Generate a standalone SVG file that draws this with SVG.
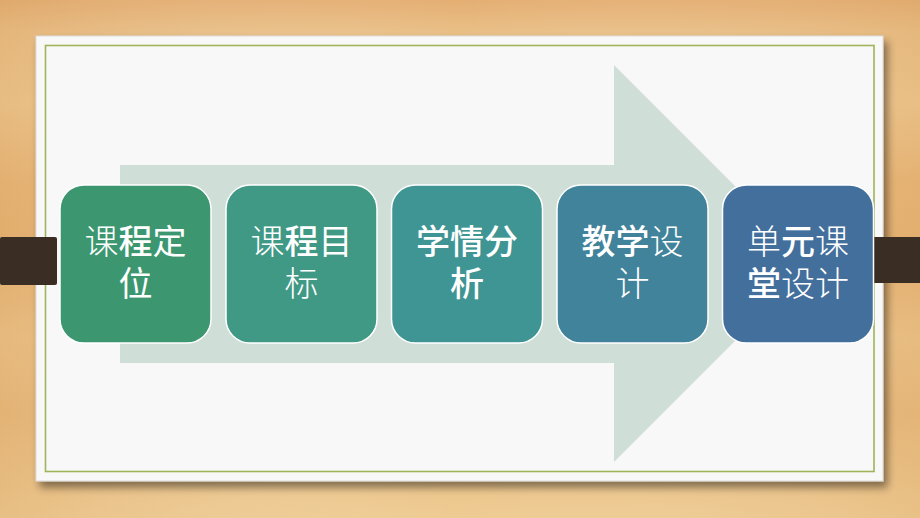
<svg xmlns="http://www.w3.org/2000/svg" width="920" height="518" viewBox="0 0 920 518">
  <defs>
    <linearGradient id="wood" x1="0" y1="0" x2="0" y2="1">
      <stop offset="0" stop-color="#e4ae72"/>
      <stop offset="0.06" stop-color="#e9bf86"/>
      <stop offset="0.2" stop-color="#eec890"/>
      <stop offset="0.35" stop-color="#e8b778"/>
      <stop offset="0.5" stop-color="#e6b373"/>
      <stop offset="0.65" stop-color="#ecc48a"/>
      <stop offset="0.8" stop-color="#e8bb7e"/>
      <stop offset="1" stop-color="#eecb92"/>
    </linearGradient>
    <linearGradient id="woodH" x1="0" y1="0" x2="1" y2="0">
      <stop offset="0" stop-color="#d49a5a" stop-opacity="0.25"/>
      <stop offset="0.5" stop-color="#ffffff" stop-opacity="0"/>
      <stop offset="1" stop-color="#d49a5a" stop-opacity="0.2"/>
    </linearGradient>
    <filter id="shadow" x="-5%" y="-5%" width="112%" height="115%">
      <feGaussianBlur in="SourceAlpha" stdDeviation="4"/>
      <feOffset dx="4" dy="6" result="b"/>
      <feComponentTransfer><feFuncA type="linear" slope="0.45"/></feComponentTransfer>
      <feMerge><feMergeNode/><feMergeNode in="SourceGraphic"/></feMerge>
    </filter>
    <style>
      .box { stroke: #ffffff; stroke-width: 1.5; }
      .lbl { font-family: "Noto Sans CJK SC", "Noto Sans", sans-serif; font-size: 34px; fill: #ffffff; font-weight: 300; }
      .c { text-anchor: middle; }
      .b { font-weight: 500; }
      .m { font-weight: 400; }
      .bar { fill: #3a2e24; }
    </style>
  </defs>

  <!-- background -->
  <rect x="0" y="0" width="920" height="518" fill="url(#wood)"/>
  <rect x="0" y="0" width="920" height="518" fill="url(#woodH)"/>

  <!-- paper -->
  <rect x="36" y="36" width="847" height="445" fill="#f8f8f8" stroke="#dcdcdc" stroke-width="1" filter="url(#shadow)"/>
  <rect x="45.5" y="45.5" width="828.5" height="426" fill="none" stroke="#9fb458" stroke-width="1.6"/>

  <!-- side bars -->
  <rect class="bar" x="0" y="237" width="57" height="48" rx="2"/>
  <rect class="bar" x="874" y="237" width="46" height="46"/>

  <!-- big arrow -->
  <g id="connectors">
    <polygon points="120,165 614,165 614,65 812.5,263.5 614,462 614,363 120,363" fill="#cfded6"/>
  </g>

  <g id="node1">
    <rect class="box" x="60" y="185" width="151" height="158" rx="24" fill="#3c9770"/>
    <text class="lbl" x="84.5" y="254">课</text>
    <text class="lbl b" x="118.5" y="254">程</text>
    <text class="lbl m" x="152.5" y="254">定</text>
    <text class="lbl m c" x="135.5" y="296">位</text>
  </g>
  <g id="node2">
    <rect class="box" x="226" y="185" width="151" height="158" rx="24" fill="#3f9985"/>
    <text class="lbl" x="250.5" y="254">课</text>
    <text class="lbl b" x="284.5" y="254">程</text>
    <text class="lbl m" x="318.5" y="254">目</text>
    <text class="lbl c" x="301.5" y="296">标</text>
  </g>
  <g id="node3">
    <rect class="box" x="391.5" y="185" width="151" height="158" rx="24" fill="#3f9594"/>
    <text class="lbl b c" x="467" y="254">学情分</text>
    <text class="lbl b c" x="467" y="296">析</text>
  </g>
  <g id="node4">
    <rect class="box" x="557" y="185" width="151" height="158" rx="24" fill="#40839a"/>
    <text class="lbl b" x="581.5" y="254">教学</text>
    <text class="lbl" x="649.5" y="254">设</text>
    <text class="lbl c" x="632.5" y="296">计</text>
  </g>
  <g id="node5">
    <rect class="box" x="722.5" y="185" width="151" height="158" rx="24" fill="#436f9d"/>
    <text class="lbl" x="747" y="254">单</text>
    <text class="lbl b" x="781" y="254">元</text>
    <text class="lbl" x="815" y="254">课</text>
    <text class="lbl b" x="747" y="296">堂</text>
    <text class="lbl" x="781" y="296">设计</text>
  </g>
</svg>
